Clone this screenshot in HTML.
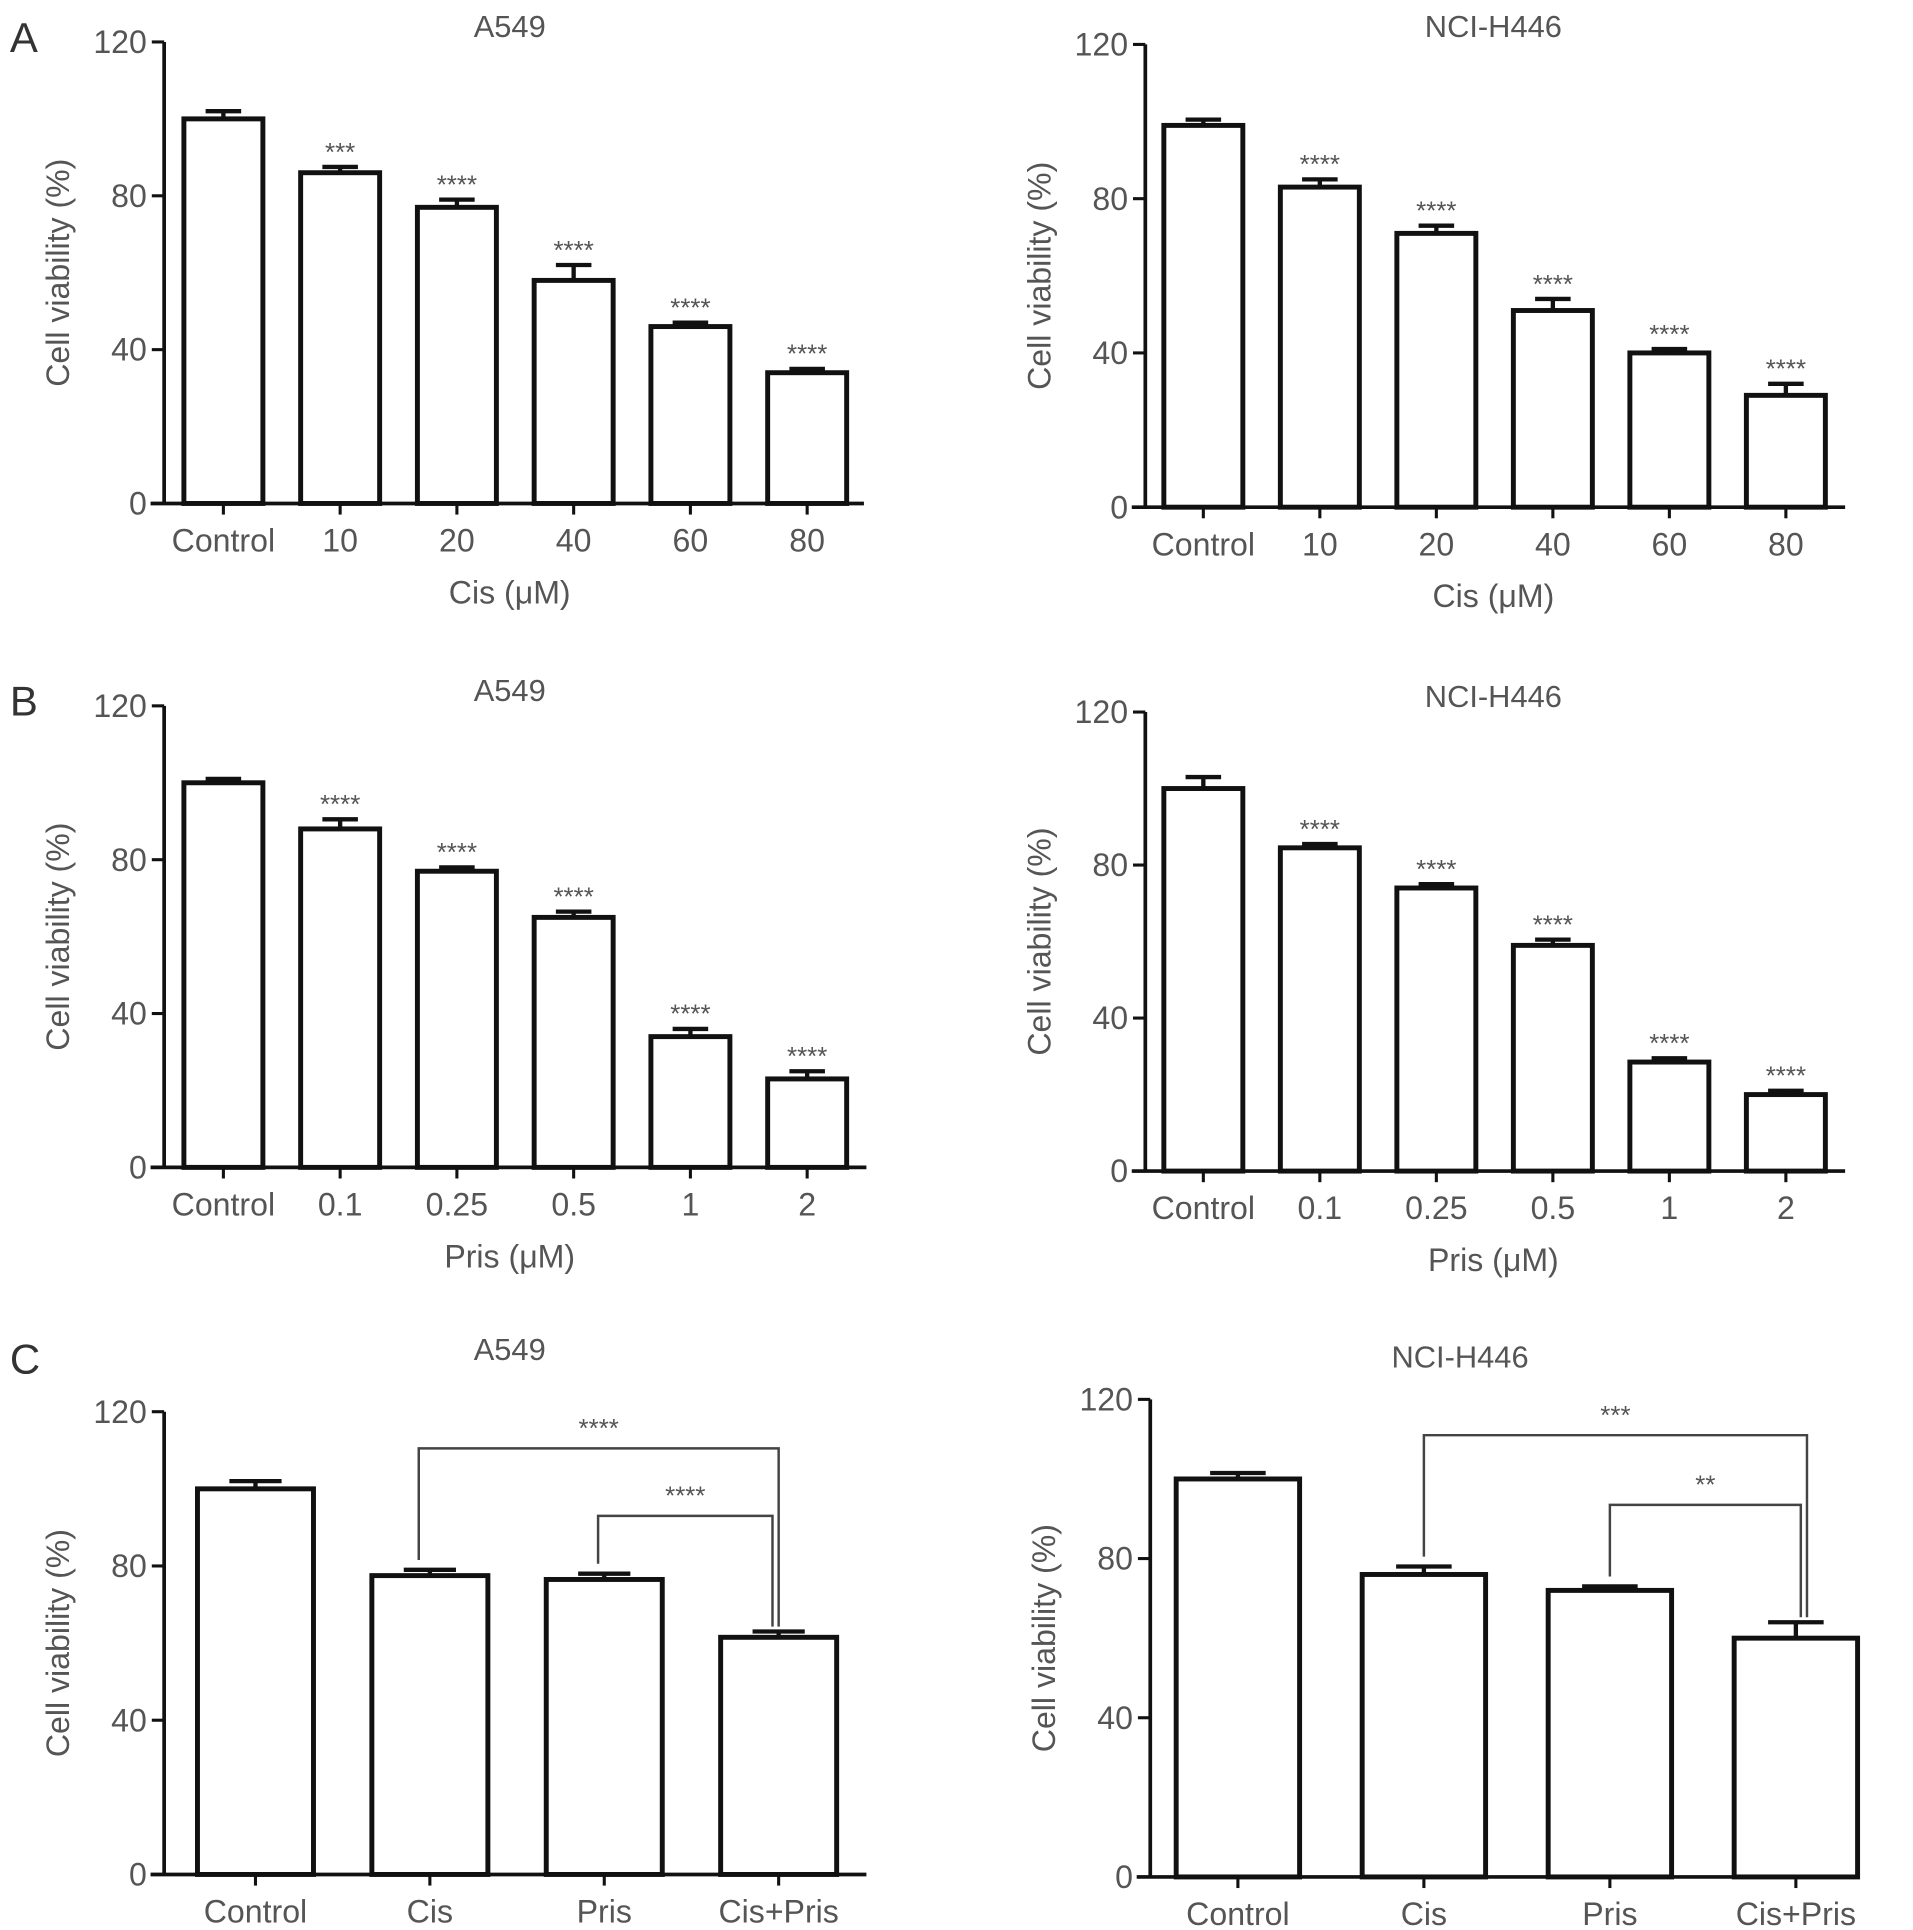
<!DOCTYPE html>
<html><head><meta charset="utf-8"><style>
html,body{margin:0;padding:0;background:#fff}
svg{display:block}
text{font-family:"Liberation Sans",sans-serif;fill:#555}
</style></head><body>
<svg id="fig" width="1913" height="1930" viewBox="0 0 1550 1564" preserveAspectRatio="none" xmlns="http://www.w3.org/2000/svg">
<text x="8" y="42" font-size="34" style="fill:#333">A</text>
<text x="8" y="580" font-size="34" style="fill:#333">B</text>
<text x="8" y="1113" font-size="34" style="fill:#333">C</text>
</svg>
<script>
const yTicks = [0, 40, 80, 120];
const catsCis = ["Control", "10", "20", "40", "60", "80"];
const catsPris = ["Control", "0.1", "0.25", "0.5", "1", "2"];
const catsCombo = ["Control", "Cis", "Pris", "Cis+Pris"];
const a1Values = [100, 86, 77, 58, 46, 34];
const a1Errors = [2, 1.5, 2, 4, 1, 1];
const a1Stars = ["", "***", "****", "****", "****", "****"];
const a2Values = [99, 83, 71, 51, 40, 29];
const a2Errors = [1.5, 2, 2, 3, 1, 3];
const a2Stars = ["", "****", "****", "****", "****", "****"];
const b1Values = [100, 88, 77, 65, 34, 23];
const b1Errors = [1, 2.5, 1, 1.5, 2, 2];
const b1Stars = ["", "****", "****", "****", "****", "****"];
const b2Values = [100, 84.5, 74, 59, 28.5, 20];
const b2Errors = [3, 1, 1, 1.5, 1, 1];
const b2Stars = ["", "****", "****", "****", "****", "****"];
const c1Values = [100, 77.5, 76.5, 61.5];
const c1Errors = [2, 1.5, 1.5, 1.5];
const c2Values = [100, 76, 72, 60];
const c2Errors = [1.5, 2, 1, 4];

const svg = document.getElementById('fig');
const NS = 'http://www.w3.org/2000/svg';
function mk(tag, attrs, parent) {
  const e = document.createElementNS(NS, tag);
  for (const k in attrs) e.setAttribute(k, attrs[k]);
  (parent || svg).appendChild(e);
  return e;
}
function panel(p) {
  const g = mk('g', {});
  
  
  const y = v => p.y0 - (v / 120) * (p.y0 - p.y120);
  const x = i => p.xFirst + i * p.step;
  const t = mk('text', {x: p.titleX, y: p.titleY, 'font-size': 25, 'text-anchor': 'middle'}, g);
  t.textContent = p.title;
  
  
  const yl = mk('text', {x: 0, y: 0, 'font-size': 26, 'text-anchor': 'middle', transform: `translate(${p.ax - 77},${(p.y0 + p.y120) / 2}) rotate(-90)`}, g);
  yl.textContent = 'Cell viability (%)';
  
  
  p.values.forEach((v, i) => {
    const cx = x(i), top = y(v), et = y(v + p.errors[i]);
    const r = mk('rect', {x: cx - p.bw / 2, y: top, width: p.bw, height: p.y0 - top, fill: '#fff', stroke: '#111', 'stroke-width': 4}, g);
    
    
    const ew = p.bw * 0.45;
    const el = mk('path', {d: `M${cx},${top} V${et} M${cx - ew / 2},${et} H${cx + ew / 2}`, stroke: '#111', 'stroke-width': 3.5, fill: 'none'}, g);
    
    
    if (p.stars && p.stars[i]) {
      const s = mk('text', {x: cx, y: et - 5, 'font-size': 21, 'text-anchor': 'middle'}, g);
      s.textContent = p.stars[i];
      
      
    }
    const tk = mk('line', {x1: cx, x2: cx, y1: p.y0, y2: p.y0 + 9, stroke: '#111', 'stroke-width': 2.5}, g);
    
    
    const lb = mk('text', {x: cx, y: p.y0 + 39, 'font-size': 26, 'text-anchor': 'middle'}, g);
    lb.textContent = p.cats[i];
    
    
  });
  const axy = mk('path', {d: `M${p.ax},${p.y120} V${p.y0}`, stroke: '#111', 'stroke-width': 3, fill: 'none'}, g);
  
  
  const axx = mk('path', {d: `M${p.ax - 11},${p.y0} H${p.axEnd}`, stroke: '#111', 'stroke-width': 3, fill: 'none'}, g);
  
  
  yTicks.forEach(v => {
    const tk = mk('line', {x1: p.ax - 10, x2: p.ax, y1: y(v), y2: y(v), stroke: '#111', 'stroke-width': 2.5}, g);
    
    
    const lb = mk('text', {x: p.ax - 14, y: y(v) + 9, 'font-size': 26, 'text-anchor': 'end'}, g);
    lb.textContent = v;
    
    
  });
  if (p.xTitle) {
    const xt = mk('text', {x: p.xTitleX, y: p.y0 + 81, 'font-size': 26, 'text-anchor': 'middle'}, g);
    xt.textContent = p.xTitle;
    
    
  }
  if (p.brackets) {
    p.brackets.forEach(b => {
      const xa = x(b.from) + (b.dxa || 0), xb = x(b.to) + (b.dxb || 0);
      const yb = y(b.level);
      const ya = y(p.values[b.from] + p.errors[b.from]) - 8;
      const yc = y(p.values[b.to] + p.errors[b.to]) - 4;
      const br = mk('path', {d: `M${xa},${ya} V${yb} H${xb} V${yc}`, stroke: '#444', 'stroke-width': 2, fill: 'none'}, g);
      
      
      const s = mk('text', {x: (xa + xb) / 2, y: yb - 9, 'font-size': 21, 'text-anchor': 'middle'}, g);
      s.textContent = b.label;
      
      
    });
  }
}
panel({name: 'chart-a-a549', title: 'A549', titleX: 413, titleY: 30, ax: 133, axEnd: 700, y0: 408, y120: 34, xFirst: 181, step: 94.6, bw: 64, cats: catsCis, values: a1Values, errors: a1Errors, stars: a1Stars, xTitle: 'Cis (\u03bcM)', xTitleX: 413});
panel({name: 'chart-a-h446', title: 'NCI-H446', titleX: 1210, titleY: 30, ax: 928, axEnd: 1495, y0: 411, y120: 36, xFirst: 975, step: 94.4, bw: 64, cats: catsCis, values: a2Values, errors: a2Errors, stars: a2Stars, xTitle: 'Cis (\u03bcM)', xTitleX: 1210});
panel({name: 'chart-b-a549', title: 'A549', titleX: 413, titleY: 568, ax: 133, axEnd: 702, y0: 946, y120: 572, xFirst: 181, step: 94.6, bw: 64, cats: catsPris, values: b1Values, errors: b1Errors, stars: b1Stars, xTitle: 'Pris (\u03bcM)', xTitleX: 413});
panel({name: 'chart-b-h446', title: 'NCI-H446', titleX: 1210, titleY: 573, ax: 928, axEnd: 1495, y0: 949, y120: 577, xFirst: 975, step: 94.4, bw: 64, cats: catsPris, values: b2Values, errors: b2Errors, stars: b2Stars, xTitle: 'Pris (\u03bcM)', xTitleX: 1210});
panel({name: 'chart-c-a549', title: 'A549', titleX: 413, titleY: 1102, ax: 133, axEnd: 702, y0: 1519, y120: 1144, xFirst: 207, step: 141.3, bw: 94, cats: catsCombo, values: c1Values, errors: c1Errors,
  brackets: [{from: 1, to: 3, level: 110.5, label: '****', dxa: -9}, {from: 2, to: 3, level: 93, label: '****', dxa: -5, dxb: -5}]});
panel({name: 'chart-c-h446', title: 'NCI-H446', titleX: 1183, titleY: 1108, ax: 932, axEnd: 1505, y0: 1521, y120: 1134, xFirst: 1003, step: 150.7, bw: 100, cats: catsCombo, values: c2Values, errors: c2Errors,
  brackets: [{from: 1, to: 3, level: 111, label: '***', dxb: 9}, {from: 2, to: 3, level: 93.5, label: '**', dxb: 4}]});
</script>
</body></html>
